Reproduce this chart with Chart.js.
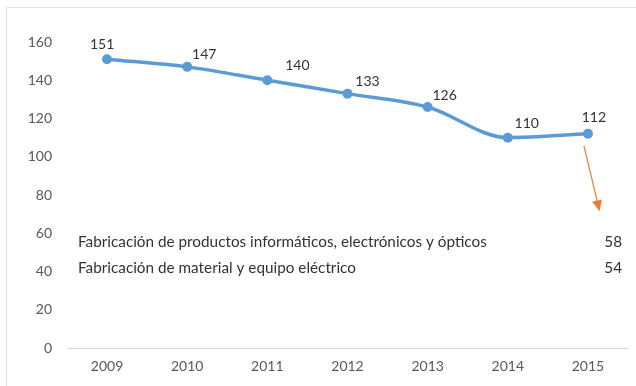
<!DOCTYPE html>
<html>
<head>
<meta charset="utf-8">
<script src="https://cdn.jsdelivr.net/npm/chart.js@4"></script>
<style>
  html, body { margin: 0; padding: 0; background: #fff; }
  #wrap { position: relative; width: 636px; height: 386px; }
  #frame { position: absolute; left: 6px; top: 7px; right: 0; bottom: 0; border-top: 1px solid #e3e3e3; border-left: 1px solid #e3e3e3; pointer-events: none; }
</style>
</head>
<body>
<div id="wrap">
  <canvas id="chart" width="636" height="386"></canvas>
  <div id="frame"></div>
</div>
<script>
const years = ['2009', '2010', '2011', '2012', '2013', '2014', '2015'];
const values = [151, 147, 140, 133, 126, 110, 112];
const yTicks = [0, 20, 40, 60, 80, 100, 120, 140, 160];

const noteLabels = [
  'Fabricación de productos informáticos, electrónicos y ópticos',
  'Fabricación de material y equipo eléctrico'
];
const noteValues = [58, 54];

const lineColor = '#5B9BD5';
const textColor = '#333333';
const axisText = '#595959';
const fontFamily = 'Lato, "Open Sans", sans-serif';

// label offsets from each point (placed by hand in the original)
const labelShift = [[-5, -15], [17, -12], [30, -15], [20, -12], [17, -12], [19, -14], [6, -16]];

const overlay = {
  id: 'overlay',
  afterDatasetsDraw(chart) {
    const ctx = chart.ctx;
    const meta = chart.getDatasetMeta(0);
    const area = chart.chartArea;
    const y = chart.scales.y;

    ctx.save();
    ctx.font = '14px ' + fontFamily;
    ctx.fillStyle = textColor;
    ctx.textAlign = 'center';
    ctx.textBaseline = 'middle';
    meta.data.forEach((pt, i) => {
      ctx.fillText(String(values[i]), pt.x + labelShift[i][0], pt.y + labelShift[i][1]);
    });

    // orange arrow from the last point
    const last = meta.data[meta.data.length - 1];
    const x0 = last.x - 4, y0 = last.y + 12;
    const x1 = last.x + 11, y1 = y.getPixelForValue(73);
    const ang = Math.atan2(y1 - y0, x1 - x0);
    ctx.strokeStyle = '#ED7D31';
    ctx.fillStyle = '#ED7D31';
    ctx.lineWidth = 1.2;
    ctx.beginPath();
    ctx.moveTo(x0, y0);
    ctx.lineTo(x1, y1);
    ctx.stroke();
    ctx.beginPath();
    ctx.moveTo(x1 + 3 * Math.cos(ang), y1 + 3 * Math.sin(ang));
    ctx.lineTo(x1 - 8 * Math.cos(ang) + 5 * Math.sin(ang), y1 - 8 * Math.sin(ang) - 5 * Math.cos(ang));
    ctx.lineTo(x1 - 8 * Math.cos(ang) - 5 * Math.sin(ang), y1 - 8 * Math.sin(ang) + 5 * Math.cos(ang));
    ctx.closePath();
    ctx.fill();

    // note lines
    ctx.font = '15.3px ' + fontFamily;
    ctx.fillStyle = textColor;
    noteLabels.forEach((t, i) => {
      const ty = area.top + 200 + i * 26;
      ctx.textAlign = 'left';
      ctx.fillText(t, area.left + 11, ty);
      ctx.textAlign = 'right';
      ctx.fillText(String(noteValues[i]), area.right - 6, ty);
    });
    ctx.restore();
  }
};

new Chart(document.getElementById('chart'), {
  type: 'line',
  data: {
    labels: years,
    datasets: [{
      data: values,
      borderColor: lineColor,
      backgroundColor: lineColor,
      borderWidth: 3.5,
      pointRadius: 5,
      pointBackgroundColor: lineColor,
      pointBorderWidth: 0,
      tension: 0.3,
      cubicInterpolationMode: 'monotone'
    }]
  },
  options: {
    responsive: false,
    animation: false,
    layout: { padding: { top: 42, right: 8, left: 0, bottom: 0 } },
    plugins: {
      legend: { display: false },
      tooltip: { enabled: false }
    },
    scales: {
      x: {
        offset: true,
        grid: { display: false, drawTicks: false },
        border: { display: true, color: '#d9d9d9', width: 1 },
        ticks: { color: axisText, font: { family: fontFamily, size: 14 }, padding: 10 },
        afterFit(s) { s.height = 38; }
      },
      y: {
        min: 0,
        max: 160,
        afterBuildTicks(s) { s.ticks = yTicks.map(v => ({ value: v })); },
        grid: { display: false, drawTicks: false },
        border: { display: false },
        ticks: { color: axisText, font: { family: fontFamily, size: 14 }, padding: 15 },
        afterFit(s) { s.width = 67; }
      }
    }
  },
  plugins: [overlay]
});
</script>
</body>
</html>
